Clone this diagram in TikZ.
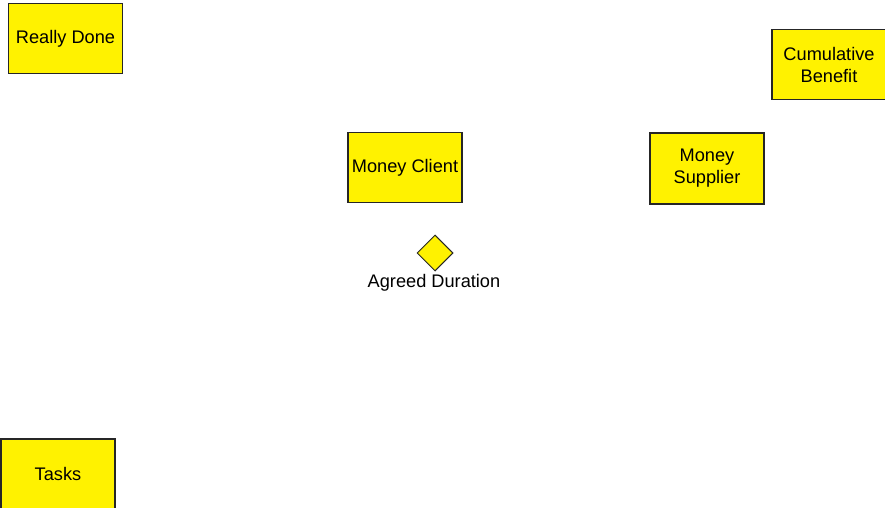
\documentclass[tikz,border=0pt]{standalone}
\usepackage{fontspec}
\setmainfont{Liberation Sans}
\usetikzlibrary{shapes.geometric}
\begin{document}
\begin{tikzpicture}[x=1pt,y=-1pt,
  stock/.style={draw=black!85,line width=1.1pt,fill=yellow,minimum width=114pt,
    minimum height=70pt,inner sep=0pt,align=center,
    font=\fontsize{18.2}{22}\selectfont},
  constant/.style={diamond,draw=black!85,line width=1pt,fill=yellow,
    minimum width=36pt,minimum height=36pt,inner sep=0pt},
  lbl/.style={font=\fontsize{18.2}{22}\selectfont,inner sep=0pt}]
  \useasboundingbox (0,0) rectangle (885,508);
  \node[stock] (done) at (65.5,38.5) {Really Done};
  \node[stock] (benefit) at (829,64.5) {Cumulative\\Benefit};
  \node[stock] (client) at (405,167.5) {Money Client};
  \node[stock,minimum height=71pt] (supplier) at (707,168.5) {Money\\Supplier};
  \node[constant] (duration) at (435,253) {};
  \node[lbl,anchor=north] (durlabel) at (434,274.5) {Agreed Duration};
  \node[stock] (tasks) at (58,474) {Tasks};
\end{tikzpicture}
\end{document}
